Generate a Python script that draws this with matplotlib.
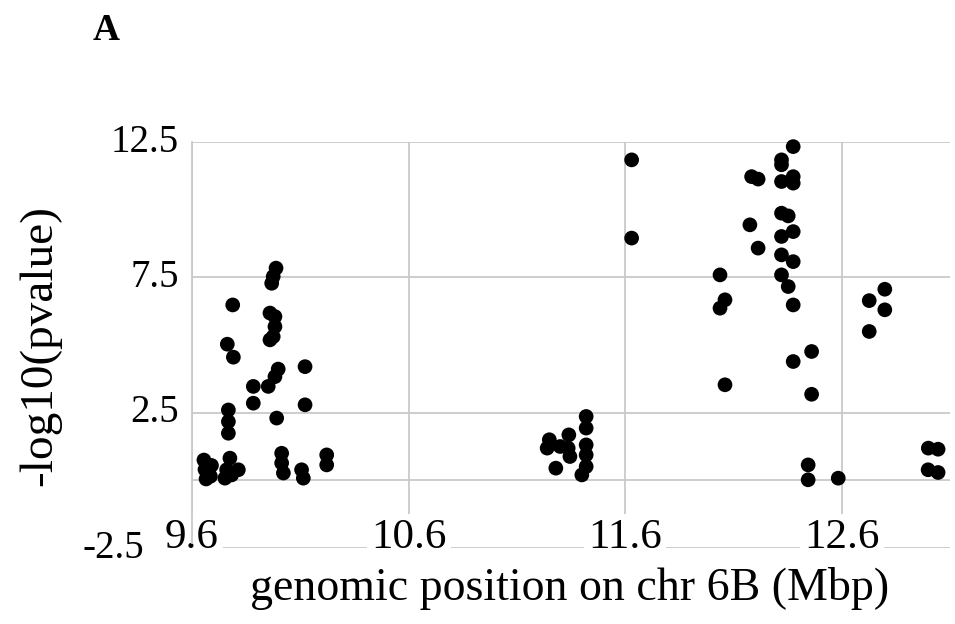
import matplotlib.pyplot as plt

plt.rcParams['font.family'] = ['Liberation Serif', 'DejaVu Serif']

# genomic position (Mbp) and -log10(pvalue)
pos_left = [9.655, 9.66, 9.665, 9.69, 9.685, 9.752, 9.76, 9.775, 9.783, 9.814,
            9.768, 9.768, 9.768, 9.763, 9.791, 9.788, 9.883, 9.883, 9.952,
            9.96, 9.983, 9.983, 9.975, 9.96, 9.968, 9.975, 9.988, 9.998, 9.983,
            9.991, 10.014, 10.014, 10.022, 10.106, 10.114, 10.122, 10.122,
            10.222, 10.222]
p_left = [0.75, 0.4, 0.05, 0.55, 0.15, 0.08, 0.39, 0.82, 0.2, 0.39,
          2.6, 2.17, 1.74, 5.03, 4.55, 6.48, 3.47, 2.85, 3.47,
          6.18, 6.05, 5.68, 5.31, 5.19, 7.28, 7.53, 7.84, 4.11, 3.83,
          2.3, 1.0, 0.64, 0.27, 0.39, 0.08, 4.2, 2.79,
          0.94, 0.57]

pos_mid = [11.24, 11.25, 11.28, 11.30, 11.34, 11.337, 11.345, 11.42, 11.42,
           11.42, 11.42, 11.42, 11.40, 11.63, 11.63]
p_mid = [1.19, 1.5, 0.45, 1.25, 1.68, 1.19, 0.88, 2.36, 1.93,
         1.31, 0.94, 0.51, 0.2, 11.84, 8.95]

pos_right = [12.376, 12.322, 12.322, 12.184, 12.214, 12.322, 12.376, 12.376,
             12.322, 12.353, 12.176, 12.376, 12.322, 12.214, 12.322, 12.376,
             12.038, 12.322, 12.353, 12.061, 12.038, 12.376, 12.461, 12.376,
             12.061, 12.461, 12.445, 12.445, 12.584,
             12.799, 12.727, 12.799, 12.727, 13.0, 13.045, 12.999, 13.045]
p_right = [12.33, 11.84, 11.66, 11.22, 11.13, 11.04, 11.22, 10.98,
           9.87, 9.77, 9.44, 9.19, 9.01, 8.58, 8.33, 8.08,
           7.59, 7.59, 7.16, 6.67, 6.36, 6.48, 4.76, 4.39,
           3.53, 3.18, 0.57, 0.02, 0.08,
           7.06, 6.64, 6.30, 5.50, 1.19, 1.15, 0.39, 0.29]

xticks = [9.6, 10.6, 11.6, 12.6]
yticks = [-2.5, 2.5, 7.5, 12.5]

fig = plt.figure(figsize=(9.55, 6.24), dpi=100)
ax = fig.add_axes([192 / 955, 1 - 548 / 624, 758 / 955, 406 / 624])
ax.set_xlim(9.6, 13.1)
ax.set_ylim(-2.5, 12.5)

grid_col = '#c9c9c9'
for s in ax.spines.values():
    s.set_visible(False)
ax.set_xticks(xticks)
ax.set_yticks(yticks)
ax.tick_params(length=0, labelbottom=False, labelleft=False)
ax.grid(True, color=grid_col, linewidth=1.3, zorder=0)
ax.set_axisbelow(True)
ax.axhline(0, color=grid_col, linewidth=1.3, zorder=1)
# y axis line runs through the first category label
ax.plot([9.6, 9.6], [-2.3, 12.5], color=grid_col, linewidth=1.3,
        zorder=6, clip_on=False)

xs = pos_left + pos_mid + pos_right
ys = p_left + p_mid + p_right
ax.scatter(xs, ys, s=112, color='black', edgecolors='none', zorder=3,
           clip_on=False)

for xv in xticks:
    ax.text(xv, -2.5, f"{xv:.1f}", ha='center', va='baseline', fontsize=31,
            zorder=5, bbox=dict(boxstyle='square,pad=0.1', fc='white',
                                ec='none'))
ytrans = ax.get_yaxis_transform()
for yv in yticks:
    xoff = -0.063 if yv < 0 else -0.017
    ax.text(xoff, yv, f"{yv:.1f}", transform=ytrans, ha='right',
            va='center', fontsize=28)

fig.text(570 / 955, 1 - 588 / 624, "genomic position on chr 6B (Mbp)",
         ha='center', va='center', fontsize=33)
fig.text(40 / 955, 1 - 345 / 624, "-log10(pvalue)", rotation=90,
         ha='center', va='center', fontsize=34)
fig.text(106 / 955, 1 - 30 / 624, "A", ha='center', va='center',
         fontsize=27, fontweight='bold')

fig.savefig('out.png', dpi=100, facecolor='white')
